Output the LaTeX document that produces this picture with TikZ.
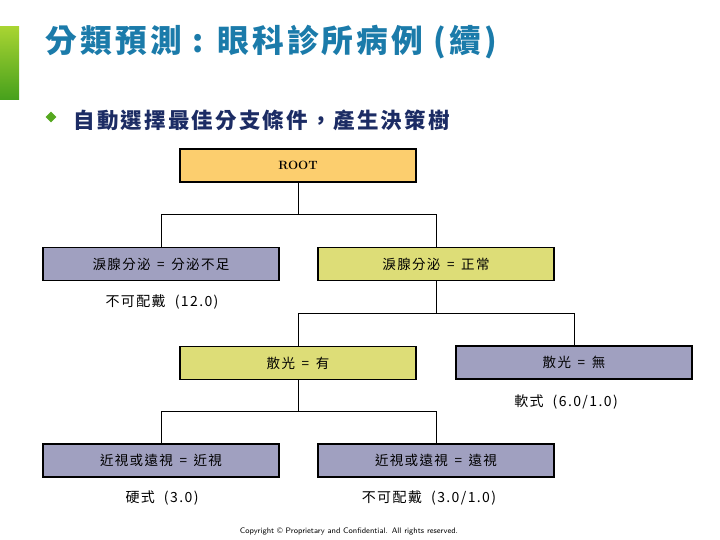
\documentclass[tikz,border=0pt]{standalone}
\usepackage{fontspec}
\usepackage{xcolor}
\usepackage{tikz}
\usetikzlibrary{positioning,shapes.geometric}
\newfontfamily\cjk{Noto Sans CJK TC}
\newfontfamily\cjkwide[LetterSpace=10]{Noto Sans CJK TC}
\definecolor{titleblue}{RGB}{27,123,170}
\definecolor{bulletnavy}{RGB}{28,44,100}
\definecolor{bargreenA}{RGB}{168,212,50}
\definecolor{bargreenB}{RGB}{70,160,28}
\definecolor{rootfill}{RGB}{252,206,110}
\definecolor{yesfill}{RGB}{221,221,119}
\definecolor{nofill}{RGB}{160,160,192}

\begin{document}
\begin{tikzpicture}[x=1pt, y=-1pt,
  every node/.style={font=\cjk},
  tbox/.style={draw=black, line width=1.5pt, minimum width=236pt, minimum height=33pt,
               inner sep=0pt, font=\cjkwide\fontsize{13.5}{13.5}\selectfont},
  leaf/.style={inner sep=0pt, font=\cjkwide\fontsize{14}{14}\selectfont},
  link/.style={draw=black, line width=1pt},
]
\useasboundingbox (0,0) rectangle (720,540);
% header
\fill[top color=bargreenA, bottom color=bargreenB] (0,27) rectangle (19,100);
\node[anchor=west, text=titleblue, font=\cjkwide\bfseries\fontsize{31.7}{31.7}\selectfont] (title) at (42,42)
  {分類預測 : 眼科診所病例 (續)};
\node[diamond, fill=bargreenB!85!bargreenA, minimum size=11pt, inner sep=0pt] (dot) at (51,117) {};
\node[anchor=west, text=bulletnavy, font=\cjkwide\bfseries\fontsize{21.5}{21.5}\selectfont] (sub) at (70,120)
  {自動選擇最佳分支條件，產生決策樹};
% tree
\node[tbox, fill=rootfill, font=\rmfamily\bfseries\fontsize{12}{12}\selectfont] (root) at (298,165.5) {ROOT};
\node[tbox, fill=nofill]  (tear1)  at (161,264)   {淚腺分泌 \,=\, 分泌不足};
\node[tbox, fill=yesfill] (tear2)  at (436,264)   {淚腺分泌 \,=\, 正常};
\node[tbox, fill=yesfill] (astig1) at (298,363)   {散光 \,=\, 有};
\node[tbox, fill=nofill]  (astig2) at (574,362.5) {散光 \,=\, 無};
\node[tbox, fill=nofill]  (sight1) at (161,460.5) {近視或遠視 \,=\, 近視};
\node[tbox, fill=nofill]  (sight2) at (436,460.5) {近視或遠視 \,=\, 遠視};
\node[leaf] (leaf1) at (162,302) {不可配戴 \ (12.0)};
\node[leaf] (leaf2) at (566,402) {軟式 \ (6.0/1.0)};
\node[leaf] (leaf3) at (162,498) {硬式 \ (3.0)};
\node[leaf] (leaf4) at (429,498) {不可配戴 \ (3.0/1.0)};
\coordinate (j1) at (298,215);
\coordinate (j2) at (436,313);
\coordinate (j3) at (298,411);
\draw[link] (root.south) -- (j1);
\draw[link] (j1) -| (tear1.north);
\draw[link] (j1) -| (tear2.north);
\draw[link] (tear2.south) -- (j2);
\draw[link] (j2) -| (astig1.north);
\draw[link] (j2) -| (astig2.north);
\draw[link] (astig1.south) -- (j3);
\draw[link] (j3) -| (sight1.north);
\draw[link] (j3) -| (sight2.north);
\node[font=\sffamily\fontsize{8}{8}\selectfont] (copy) at (349,531)
  {Copyright © Proprietary and Confidential. All rights reserved.};
\end{tikzpicture}
\end{document}
